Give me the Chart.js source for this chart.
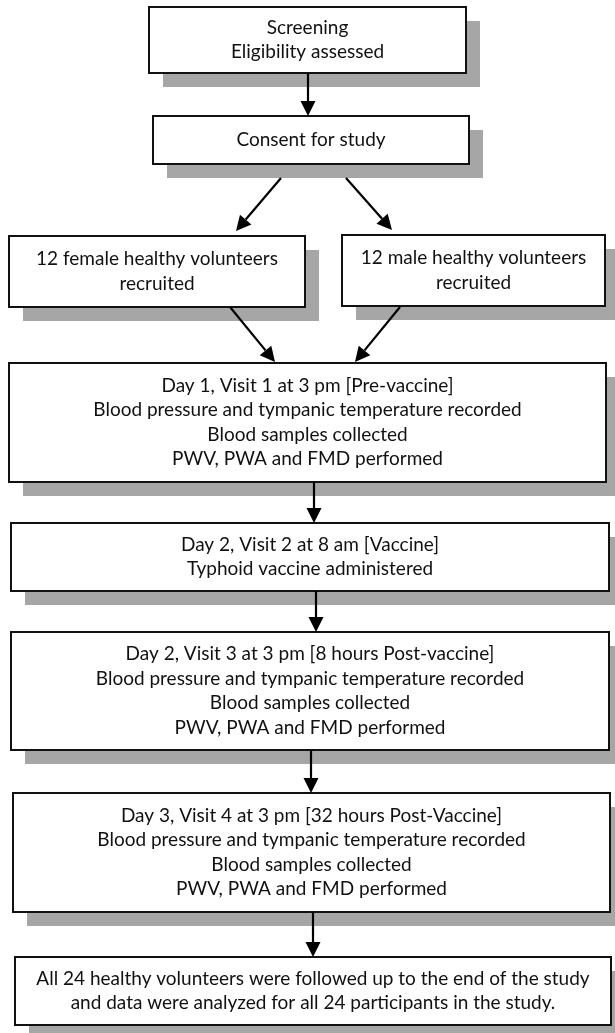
<!DOCTYPE html>
<html>
<head>
<meta charset="utf-8">
<script src="https://cdn.jsdelivr.net/npm/chart.js@4"></script>
<style>
  html, body { margin: 0; padding: 0; background: #ffffff; }
  #wrap { width: 615px; height: 1033px; }
</style>
</head>
<body>
<div id="wrap"><canvas id="flowChart" width="615" height="1033"></canvas></div>
<script>
// Flow diagram drawn on a hidden linear x/y plane (page units)

const boxLines = [
    ['Screening', 'Eligibility assessed'],
    ['Consent for study'],
    ['12 female healthy volunteers', 'recruited'],
    ['12 male healthy volunteers', 'recruited'],
    ['Day 1, Visit 1 at 3 pm [Pre-vaccine]', 'Blood pressure and tympanic temperature recorded',
        'Blood samples collected', 'PWV, PWA and FMD performed'],
    ['Day 2, Visit 2 at 8 am [Vaccine]', 'Typhoid vaccine administered'],
    ['Day 2, Visit 3 at 3 pm [8 hours Post-vaccine]', 'Blood pressure and tympanic temperature recorded',
        'Blood samples collected', 'PWV, PWA and FMD performed'],
    ['Day 3, Visit 4 at 3 pm [32 hours Post-Vaccine]', 'Blood pressure and tympanic temperature recorded',
        'Blood samples collected', 'PWV, PWA and FMD performed'],
    ['All 24 healthy volunteers were followed up to the end of the study',
        'and data were analyzed for all 24 participants in the study.']
];

const boxLeft = [149, 153, 9, 342, 9, 11, 11, 13, 15];
const boxRight = [466, 469, 305, 605, 606, 609, 609, 610, 611];
const boxTop = [7, 116, 236, 235, 363, 523, 632, 793, 957];
const boxBottom = [73, 164, 307, 306, 482, 591, 750, 912, 1025];

const arrowFromX = [308, 281, 346, 230, 400, 314, 316, 311, 313];
const arrowFromY = [73, 178, 178, 307, 307, 482, 591, 750, 912];
const arrowToX = [308, 236, 392, 275, 355, 314, 316, 311, 313];
const arrowToY = [116, 231, 230, 362, 362, 523, 632, 793, 957];

const axisMaxX = 615;
const axisMaxY = 1033;

const flowPlugin = {
    id: 'flowBoxes',
    afterDatasetsDraw(chart) {
        const ctx = chart.ctx;
        const xs = chart.scales.x;
        const ys = chart.scales.y;
        const shadow = 14;

        ctx.save();
        // shadows first
        ctx.fillStyle = '#a6a6a6';
        boxLines.forEach((_, i) => {
            const l = xs.getPixelForValue(boxLeft[i]);
            const r = xs.getPixelForValue(boxRight[i]);
            const t = ys.getPixelForValue(boxTop[i]);
            const b = ys.getPixelForValue(boxBottom[i]);
            ctx.fillRect(l + shadow, t + shadow, r - l, b - t);
        });

        // boxes + text
        boxLines.forEach((lines, i) => {
            const l = xs.getPixelForValue(boxLeft[i]);
            const r = xs.getPixelForValue(boxRight[i]);
            const t = ys.getPixelForValue(boxTop[i]);
            const b = ys.getPixelForValue(boxBottom[i]);
            ctx.fillStyle = '#ffffff';
            ctx.fillRect(l, t, r - l, b - t);
            ctx.strokeStyle = '#111111';
            ctx.lineWidth = 2;
            ctx.strokeRect(l, t, r - l, b - t);

            ctx.fillStyle = '#111111';
            ctx.font = '19px Lato';
            ctx.textAlign = 'center';
            ctx.textBaseline = 'middle';
            const gap = 24.5;
            const cy = (t + b) / 2;
            const cx = (l + r) / 2;
            lines.forEach((s, k) => {
                ctx.fillText(s, cx, cy + (k - (lines.length - 1) / 2) * gap);
            });
        });

        // arrows
        ctx.strokeStyle = '#000000';
        ctx.fillStyle = '#000000';
        ctx.lineWidth = 2.2;
        arrowFromX.forEach((_, i) => {
            const x1 = xs.getPixelForValue(arrowFromX[i]);
            const y1 = ys.getPixelForValue(arrowFromY[i]);
            const x2 = xs.getPixelForValue(arrowToX[i]);
            const y2 = ys.getPixelForValue(arrowToY[i]);
            const ang = Math.atan2(y2 - y1, x2 - x1);
            const head = 15, half = 7.5;
            const bx = x2 - head * Math.cos(ang);
            const by = y2 - head * Math.sin(ang);
            ctx.beginPath();
            ctx.moveTo(x1, y1);
            ctx.lineTo(bx, by);
            ctx.stroke();
            ctx.beginPath();
            ctx.moveTo(x2, y2);
            ctx.lineTo(bx + half * Math.sin(ang), by - half * Math.cos(ang));
            ctx.lineTo(bx - half * Math.sin(ang), by + half * Math.cos(ang));
            ctx.closePath();
            ctx.fill();
        });
        ctx.restore();
    }
};

new Chart(document.getElementById('flowChart'), {
    type: 'scatter',
    data: {
        datasets: [{
            data: boxLines.map((_, i) => ({
                x: (boxLeft[i] + boxRight[i]) / 2,
                y: (boxTop[i] + boxBottom[i]) / 2
            })),
            pointRadius: 0,
            pointHoverRadius: 0
        }]
    },
    options: {
        responsive: false,
        animation: false,
        events: [],
        layout: { padding: 0 },
        plugins: {
            legend: { display: false },
            tooltip: { enabled: false }
        },
        scales: {
            x: { type: 'linear', min: 0, max: axisMaxX, display: false },
            y: { type: 'linear', min: 0, max: axisMaxY, reverse: true, display: false }
        }
    },
    plugins: [flowPlugin]
});
</script>
</body>
</html>
